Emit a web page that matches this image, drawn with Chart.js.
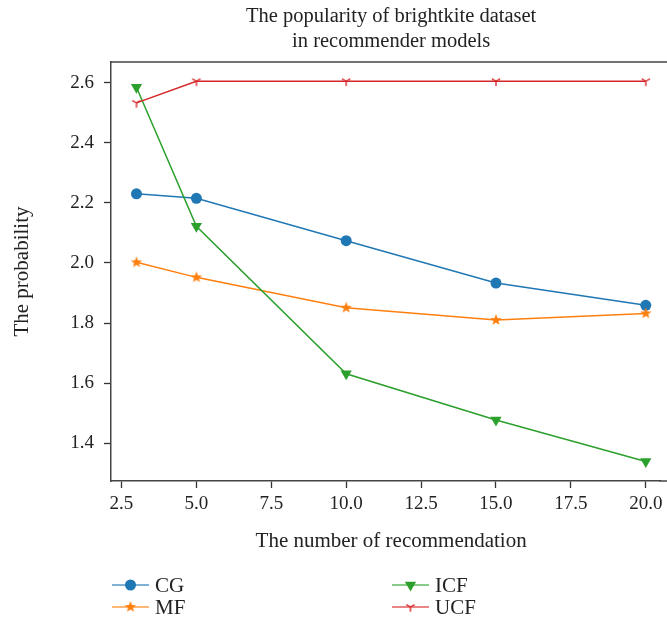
<!DOCTYPE html>
<html>
<head>
<meta charset="utf-8">
<script src="https://cdn.jsdelivr.net/npm/chart.js@4/dist/chart.umd.min.js"></script>
<style>
  html, body { margin: 0; padding: 0; background: #fff; }
  #wrap { width: 667px; height: 620px; position: relative; }
</style>
</head>
<body>
<div id="wrap"><canvas id="c" width="667" height="620"></canvas></div>
<script>
// ---- data ----
const categories = [3, 5, 10, 15, 20];
const seriesCG  = [2.230, 2.215, 2.074, 1.933, 1.859];
const seriesMF  = [2.002, 1.952, 1.851, 1.810, 1.832];
const seriesICF = [2.585, 2.122, 1.631, 1.477, 1.339];
const seriesUCF = [2.533, 2.605, 2.605, 2.605, 2.605];
const xTicks = [2.5, 5.0, 7.5, 10.0, 12.5, 15.0, 17.5, 20.0];
const yTicks = [1.4, 1.6, 1.8, 2.0, 2.2, 2.4, 2.6];
const titleLines = ['The popularity of brightkite dataset', 'in recommender models'];
const xLabel = 'The number of recommendation';
const yLabel = 'The probability';

const FONT = '"Liberation Serif", "DejaVu Serif", serif';
const C_CG = '#1f77b4', C_MF = '#ff7f0e', C_ICF = '#2ca02c', C_UCF = '#d62728';
const X_MIN = 2.15, X_FULL_MAX = 20.85; // axis extent (right end lies past the visible edge)

function makeStar(color) {
  const cv = document.createElement('canvas');
  cv.width = 14; cv.height = 14;
  const g = cv.getContext('2d');
  g.fillStyle = color;
  g.beginPath();
  for (let i = 0; i < 10; i++) {
    const r = (i % 2 === 0) ? 6 : 2.5;
    const a = -Math.PI / 2 + i * Math.PI / 5;
    const px = 7 + r * Math.cos(a), py = 7 + r * Math.sin(a);
    if (i === 0) g.moveTo(px, py); else g.lineTo(px, py);
  }
  g.closePath();
  g.fill();
  return cv;
}
function makeTriDown(color) {
  const cv = document.createElement('canvas');
  cv.width = 12; cv.height = 12;
  const g = cv.getContext('2d');
  g.strokeStyle = color;
  g.lineWidth = 1.4;
  const r = 4.8, cx = 6, cy = 6;
  g.beginPath();
  g.moveTo(cx, cy); g.lineTo(cx, cy + r);
  g.moveTo(cx, cy); g.lineTo(cx - r * 0.866, cy - r * 0.5);
  g.moveTo(cx, cy); g.lineTo(cx + r * 0.866, cy - r * 0.5);
  g.stroke();
  return cv;
}
const starImg = makeStar(C_MF);
const triImg = makeTriDown(C_UCF);

function pts(ys) { return categories.map((x, i) => ({ x: x, y: ys[i] })); }

const datasets = [
  { label: 'CG', data: pts(seriesCG), borderColor: C_CG, backgroundColor: C_CG,
    pointStyle: 'circle', pointRadius: 5.5, pointHoverRadius: 5.5, borderWidth: 1.5, order: 4 },
  { label: 'MF', data: pts(seriesMF), borderColor: C_MF, backgroundColor: C_MF,
    pointStyle: starImg, pointRadius: 6, borderWidth: 1.5, order: 3 },
  { label: 'ICF', data: pts(seriesICF), borderColor: C_ICF, backgroundColor: C_ICF,
    pointStyle: 'triangle', rotation: 180, pointRotation: 180, pointRadius: 6.5, pointHoverRadius: 6.5, borderWidth: 1.5, order: 2 },
  { label: 'UCF', data: pts(seriesUCF), borderColor: C_UCF, backgroundColor: C_UCF,
    pointStyle: triImg, pointRadius: 5, borderWidth: 1.5, order: 1 }
];
datasets.forEach(d => { d.pointBorderWidth = 0; d.tension = 0; d.fill = false; d.clip = false; });

// frame: top spine and extension of bottom spine to the visible edge, plus title & x label
const frameAndText = {
  id: 'frameAndText',
  afterDraw(chart) {
    const { ctx, chartArea } = chart;
    const xs = chart.scales.x;
    ctx.save();
    ctx.strokeStyle = '#444';
    ctx.lineWidth = 1.5;
    ctx.beginPath();
    ctx.moveTo(chartArea.left - 0.75, chartArea.top);
    ctx.lineTo(chart.width, chartArea.top);
    ctx.moveTo(chartArea.right - 1, chartArea.bottom);
    ctx.lineTo(chart.width, chartArea.bottom);
    ctx.stroke();
    // centre of the full axes extent
    const cx = (xs.getPixelForValue(X_MIN) + xs.getPixelForValue(X_FULL_MAX)) / 2;
    ctx.fillStyle = '#222';
    ctx.textAlign = 'center';
    ctx.textBaseline = 'alphabetic';
    ctx.font = '20.5px ' + FONT;
    ctx.fillText(titleLines[0], cx, 22);
    ctx.fillText(titleLines[1], cx, 47);
    ctx.font = '21px ' + FONT;
    ctx.fillText(xLabel, cx, 547);
    ctx.restore();
  }
};

const customLegend = {
  id: 'customLegend',
  afterDraw(chart) {
    const ctx = chart.ctx;
    const pos = [
      { x: 112, y: 585 }, { x: 112, y: 607 },
      { x: 392, y: 585 }, { x: 392, y: 607 }
    ];
    chart.data.datasets.forEach((ds, i) => {
      const p = pos[i];
      const len = 37;
      ctx.save();
      ctx.globalAlpha = 0.75;
      ctx.strokeStyle = ds.borderColor;
      ctx.lineWidth = 1.5;
      ctx.beginPath();
      ctx.moveTo(p.x, p.y); ctx.lineTo(p.x + len, p.y);
      ctx.stroke();
      ctx.globalAlpha = 1;
      const mx = p.x + len / 2, my = p.y;
      ctx.fillStyle = ds.backgroundColor;
      if (ds.pointStyle === 'circle') {
        ctx.beginPath(); ctx.arc(mx, my, 5.5, 0, Math.PI * 2); ctx.fill();
      } else if (ds.pointStyle === 'triangle') {
        const r = 6.5;
        ctx.beginPath();
        ctx.moveTo(mx, my + r);
        ctx.lineTo(mx - r * 0.866, my - r * 0.5);
        ctx.lineTo(mx + r * 0.866, my - r * 0.5);
        ctx.closePath(); ctx.fill();
      } else {
        const img = ds.pointStyle;
        ctx.drawImage(img, mx - img.width / 2, my - img.height / 2);
      }
      ctx.fillStyle = '#222';
      ctx.font = '21px ' + FONT;
      ctx.textBaseline = 'middle';
      ctx.textAlign = 'left';
      ctx.fillText(ds.label, p.x + len + 6, p.y + 1);
      ctx.restore();
    });
  }
};

// x max is chosen so that the unit spacing matches the reference (~29.96 px per unit)
function xMaxFor(chart) { return X_MIN + (chart.chartArea.right - chart.chartArea.left) / 29.96; }

new Chart(document.getElementById('c'), {
  type: 'line',
  data: { datasets: datasets },
  options: {
    responsive: false,
    animation: false,
    layout: { padding: { left: 0, right: 0, top: 62, bottom: 59 } },
    plugins: {
      legend: { display: false },
      tooltip: { enabled: false },
      title: { display: false }
    },
    scales: {
      x: {
        type: 'linear',
        min: X_MIN,
        max: 20.474,
        afterFit(scale) { scale.height = 80; scale.paddingLeft = 0; scale.paddingRight = 0; },
        afterBuildTicks(scale) { scale.ticks = xTicks.map(v => ({ value: v })); },
        grid: { drawOnChartArea: false, drawTicks: true, tickLength: 7, tickColor: '#333', tickWidth: 1.3 },
        border: { display: true, color: '#444', width: 1.5 },
        ticks: {
          color: '#222',
          padding: 5,
          font: { family: FONT, size: 19 },
          maxRotation: 0,
          autoSkip: false,
          callback: v => Number(v).toFixed(1)
        },
        title: { display: false }
      },
      y: {
        type: 'linear',
        min: 1.274,
        max: 2.669,
        afterFit(scale) { scale.width = 111; scale.paddingTop = 0; scale.paddingBottom = 0; },
        afterBuildTicks(scale) { scale.ticks = yTicks.map(v => ({ value: v })); },
        grid: { drawOnChartArea: false, drawTicks: true, tickLength: 7, tickColor: '#333', tickWidth: 1.3 },
        border: { display: true, color: '#444', width: 1.5 },
        ticks: {
          color: '#222',
          padding: 10,
          font: { family: FONT, size: 19 },
          autoSkip: false,
          callback: v => Number(v).toFixed(1)
        },
        title: {
          display: true,
          text: yLabel,
          color: '#222',
          font: { family: FONT, size: 21 },
          padding: { top: 9.5, bottom: 0 }
        }
      }
    }
  },
  plugins: [frameAndText, customLegend, {
    id: 'xSpan',
    afterLayout(chart) {
      const m = xMaxFor(chart);
      if (Math.abs(chart.options.scales.x.max - m) > 1e-6) {
        chart.options.scales.x.max = m;
        chart.update('none');
      }
    }
  }]
});
</script>
</body>
</html>
